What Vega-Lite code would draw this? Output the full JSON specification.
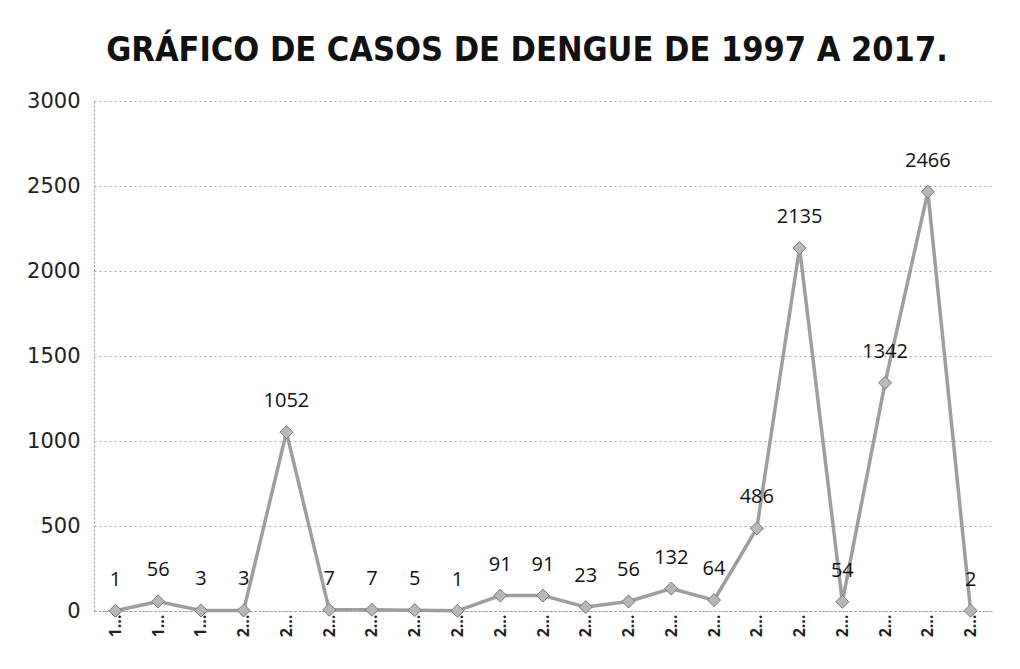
{
  "$schema": "https://vega.github.io/schema/vega-lite/v6.json",
  "autosize": {"type": "none"},
  "padding": {"left": 94, "top": 101, "right": 28, "bottom": 58},
  "width": 898,
  "height": 510,
  "background": "white",
  "title": {
    "text": "GRÁFICO DE CASOS  DE DENGUE DE 1997 A 2017.",
    "font": "DejaVu Sans Condensed",
    "fontWeight": "bold",
    "fontSize": 34,
    "color": "#111111",
    "anchor": "middle",
    "dx": -16,
    "offset": 22
  },
  "data": {
    "values": [
      {"year": "1997", "cases": 1},
      {"year": "1998", "cases": 56},
      {"year": "1999", "cases": 3},
      {"year": "2000", "cases": 3},
      {"year": "2001", "cases": 1052},
      {"year": "2002", "cases": 7},
      {"year": "2003", "cases": 7},
      {"year": "2004", "cases": 5},
      {"year": "2005", "cases": 1},
      {"year": "2006", "cases": 91},
      {"year": "2007", "cases": 91},
      {"year": "2008", "cases": 23},
      {"year": "2009", "cases": 56},
      {"year": "2010", "cases": 132},
      {"year": "2011", "cases": 64},
      {"year": "2012", "cases": 486},
      {"year": "2013", "cases": 2135},
      {"year": "2014", "cases": 54},
      {"year": "2015", "cases": 1342},
      {"year": "2016", "cases": 2466},
      {"year": "2017", "cases": 2}
    ]
  },
  "encoding": {
    "x": {
      "field": "year",
      "type": "ordinal",
      "scale": {"type": "point", "padding": 0.5},
      "axis": {
        "title": null,
        "labelAngle": -90,
        "labelExpr": "substring(datum.label, 0, 1) + '…'",
        "labelFont": "Open Sans",
        "labelFontSize": 16,
        "labelFontWeight": "bold",
        "labelColor": "#222222",
        "labelPadding": 3,
        "ticks": false,
        "domain": true,
        "domainColor": "#999999",
        "domainDash": [2, 2],
        "domainWidth": 1,
        "grid": false
      }
    },
    "y": {
      "field": "cases",
      "type": "quantitative",
      "scale": {"domain": [0, 3000], "nice": false},
      "axis": {
        "title": null,
        "format": "d",
        "values": [0, 500, 1000, 1500, 2000, 2500, 3000],
        "labelFont": "DejaVu Sans",
        "labelFontSize": 21,
        "labelColor": "#222222",
        "labelPadding": 14,
        "ticks": false,
        "domain": true,
        "domainColor": "#999999",
        "domainDash": [2, 2],
        "grid": true,
        "gridColor": "#aaaaaa",
        "gridDash": [2, 3],
        "gridWidth": 1
      }
    }
  },
  "layer": [
    {
      "mark": {"type": "line", "color": "#9e9e9e", "strokeWidth": 3.5}
    },
    {
      "mark": {"type": "point", "shape": "diamond", "filled": true, "size": 170, "fill": "#b8b8b8", "stroke": "#7a7a7a", "strokeWidth": 1, "opacity": 1}
    },
    {
      "mark": {"type": "text", "dy": -31, "baseline": "middle", "align": "center", "font": "Open Sans", "fontSize": 20, "color": "#111111"},
      "encoding": {"text": {"field": "cases", "type": "quantitative"}}
    }
  ],
  "config": {"view": {"stroke": null}}
}
